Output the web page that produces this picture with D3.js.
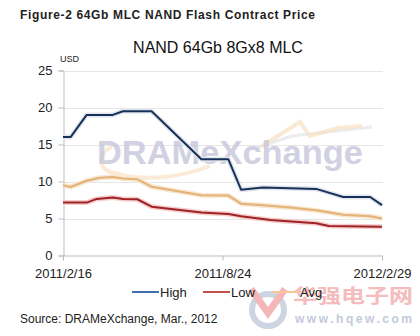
<!DOCTYPE html>
<html>
<head>
<meta charset="utf-8">
<script src="https://cdn.jsdelivr.net/npm/d3@7"></script>
<style>
  html, body { margin: 0; padding: 0; background: #fff; }
  svg { display: block; font-family: "Liberation Sans", Arial, sans-serif; }
</style>
</head>
<body>
<svg id="chart" width="420" height="336"></svg>
<script>
// ---- data ----
const highDates = ["2011-02-16","2011-02-25","2011-03-16","2011-04-16","2011-04-28","2011-06-01","2011-07-30","2011-08-31","2011-09-15","2011-10-11","2011-11-12","2011-12-13","2012-01-14","2012-02-15","2012-02-29"];
const highValues = [16, 16, 19, 19, 19.5, 19.5, 13, 13, 8.9, 9.2, 9.1, 9.0, 7.9, 7.9, 6.8];

const avgDates = ["2011-02-16","2011-02-25","2011-03-16","2011-04-01","2011-04-16","2011-04-28","2011-05-15","2011-06-01","2011-07-30","2011-08-31","2011-09-15","2011-10-11","2011-11-12","2011-12-13","2012-01-14","2012-02-15","2012-02-29"];
const avgValues = [9.5, 9.25, 10.1, 10.5, 10.6, 10.4, 10.3, 9.3, 8.15, 8.1, 7.0, 6.8, 6.5, 6.1, 5.5, 5.3, 5.0];

const lowDates = ["2011-02-16","2011-03-16","2011-03-28","2011-04-16","2011-04-28","2011-05-15","2011-06-01","2011-07-30","2011-08-31","2011-09-15","2011-10-20","2011-12-13","2011-12-28","2012-02-29"];
const lowValues = [7.15, 7.15, 7.65, 7.85, 7.65, 7.6, 6.6, 5.8, 5.6, 5.3, 4.8, 4.35, 4.0, 3.9];

const xTickLabels = ["2011/2/16", "2011/8/24", "2012/2/29"];
const yTicks = [0, 5, 10, 15, 20, 25];
const seriesNames = ["High", "Low", "Avg"];

// ---- layout ----
const svg = d3.select("#chart");
const parse = d3.timeParse("%Y-%m-%d");
const parseLabel = d3.timeParse("%Y/%m/%d");
const x = d3.scaleTime()
  .domain([parseLabel(xTickLabels[0]), parseLabel(xTickLabels[2])])
  .range([63, 382]);
const y = d3.scaleLinear().domain([0, 25]).range([255.5, 70.5]);

// titles
svg.append("text").attr("x", 20).attr("y", 19)
  .attr("font-size", 12).attr("font-weight", "bold").attr("fill", "#222")
  .attr("textLength", 295).attr("lengthAdjust", "spacing")
  .text("Figure-2 64Gb MLC NAND Flash Contract Price");
svg.append("text").attr("x", 218).attr("y", 53).attr("text-anchor", "middle")
  .attr("font-size", 16).attr("fill", "#111")
  .text("NAND 64Gb 8Gx8 MLC");
svg.append("text").attr("x", 60).attr("y", 62)
  .attr("font-size", 9).attr("fill", "#222").text("USD");

// gridlines
svg.append("g").selectAll("line").data(yTicks.filter(d => d > 0)).join("line")
  .attr("x1", 63).attr("x2", 383)
  .attr("y1", d => Math.round(y(d)) + 0.5).attr("y2", d => Math.round(y(d)) + 0.5)
  .attr("stroke", "#e6e6e6").attr("stroke-width", 1);

// watermark
const wm = svg.append("g");
wm.append("path")
  .attr("d", "M112,147 C100,152 96,166 110,172 C140,182 180,178 210,166")
  .attr("fill", "none").attr("stroke", "#f8e1c4").attr("stroke-width", 4).attr("opacity", 0.7);
wm.append("path")
  .attr("d", "M250,150 L292,136 L372,127")
  .attr("fill", "none").attr("stroke", "#e4e4ea").attr("stroke-width", 3).attr("opacity", 0.7);
wm.append("path")
  .attr("d", "M262,146 L300,122 L310,136 L338,128 L362,126")
  .attr("fill", "none").attr("stroke", "#f8e1c4").attr("stroke-width", 4).attr("opacity", 0.75);
wm.append("text").attr("x", 97).attr("y", 164)
  .attr("font-size", 34).attr("font-weight", "bold").attr("fill", "#c6c6da").attr("opacity", 0.8)
  .attr("textLength", 266).attr("lengthAdjust", "spacingAndGlyphs")
  .text("DRAMeXchange");

// axes
const yAxis = d3.axisLeft(y).tickValues(yTicks).tickSize(5).tickPadding(6);
const gy = svg.append("g").attr("transform", "translate(63.5,0)").call(yAxis);
gy.select(".domain").attr("stroke", "#bdbdbd");
gy.selectAll(".tick line").attr("stroke", "#bdbdbd");
gy.selectAll(".tick text").attr("font-size", 13).attr("fill", "#222")
  .attr("font-family", "'Liberation Sans', Arial, sans-serif");

const xAxis = d3.axisBottom(x).tickValues(xTickLabels.map(parseLabel))
  .tickFormat((d, i) => xTickLabels[i]).tickSize(5).tickSizeOuter(0).tickPadding(8);
const gx = svg.append("g").attr("transform", "translate(0,255.5)").call(xAxis);
gx.select(".domain").attr("stroke", "#bdbdbd");
gx.selectAll(".tick line").attr("stroke", "#bdbdbd");
gx.selectAll(".tick text").attr("font-size", 13).attr("fill", "#222")
  .attr("font-family", "'Liberation Sans', Arial, sans-serif");

// lines
const line = d3.line().x(d => x(d[0])).y(d => y(d[1]));
const mk = (dates, vals) => dates.map((d, i) => [parse(d), vals[i]]);
const series = [
  { data: mk(avgDates, avgValues), color: "#e3b277", glow: "#f9e6cf" },
  { data: mk(lowDates, lowValues), color: "#9e2226", glow: "#f6cdcd" },
  { data: mk(highDates, highValues), color: "#17325a", glow: "#e3e6ec" }
];
series.forEach(s => {
  svg.append("path").attr("d", line(s.data)).attr("fill", "none")
    .attr("stroke", s.glow).attr("stroke-width", 5).attr("stroke-linejoin", "round");
});
series.forEach(s => {
  svg.append("path").attr("d", line(s.data)).attr("fill", "none")
    .attr("stroke", s.color).attr("stroke-width", 2).attr("stroke-linejoin", "round");
});

// hqew watermark (behind legend text)
const hq = svg.append("g").attr("opacity", 0.7);
hq.append("circle").attr("cx", 268).attr("cy", 310).attr("r", 16)
  .attr("fill", "none").attr("stroke", "#b9c3d6").attr("stroke-width", 6);
hq.append("path").attr("d", "M251,289 L268,313 L285,289")
  .attr("fill", "none").attr("stroke", "#ef9a9a").attr("stroke-width", 7);
hq.append("text").attr("x", 293).attr("y", 303).attr("font-size", 19)
  .attr("font-family", "'Noto Sans CJK SC', sans-serif").attr("font-weight", "bold")
  .attr("fill", "#f0a0a0").attr("textLength", 120).attr("lengthAdjust", "spacingAndGlyphs").text("华强电子网");
hq.append("text").attr("x", 295).attr("y", 323).attr("font-size", 12).attr("font-weight", "bold")
  .attr("fill", "#aab4c8").attr("textLength", 117).text("www.hqew.com");

// legend
const legendColors = ["#3f6fae", "#c0504d", "#f7c79a"];
const legendX = [132, 203, 272];
const lg = svg.append("g");
seriesNames.forEach((n, i) => {
  lg.append("line").attr("x1", legendX[i]).attr("x2", legendX[i] + 27)
    .attr("y1", 292).attr("y2", 292).attr("stroke", legendColors[i]).attr("stroke-width", 2);
  lg.append("text").attr("x", legendX[i] + 28).attr("y", 296.5)
    .attr("font-size", 13).attr("fill", "#222").text(n);
});

// source
svg.append("text").attr("x", 20).attr("y", 323).attr("font-size", 12).attr("fill", "#222")
  .text("Source: DRAMeXchange, Mar., 2012");
</script>
</body>
</html>
